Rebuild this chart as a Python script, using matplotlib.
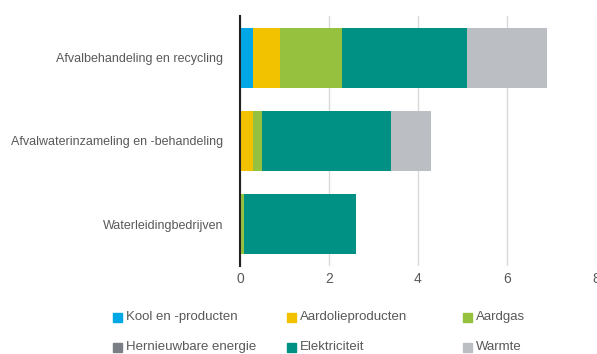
import matplotlib
matplotlib.use("Agg")
import matplotlib.pyplot as plt
import numpy as np
from matplotlib.patches import Rectangle

# -----------------------------
# data
# -----------------------------
categories = ["Afvalbehandeling en recycling",
              "Afvalwaterinzameling en -behandeling",
              "Waterleidingbedrijven"]
series = ["Kool en -producten", "Aardolieproducten", "Aardgas",
          "Hernieuwbare energie", "Elektriciteit", "Warmte"]
kool = [0.3, 0.0, 0.0]
aardolie = [0.6, 0.3, 0.0]
aardgas = [1.4, 0.2, 0.1]
hernieuwbaar = [0.0, 0.0, 0.0]
elektriciteit = [2.8, 2.9, 2.5]
warmte = [1.8, 0.9, 0.0]
colors = ["#00a7e7", "#f2c200", "#95c13f", "#7a7f86", "#009184", "#bbbec2"]

plt.rcParams['font.family'] = ['Liberation Sans', 'DejaVu Sans']
W, H = 597, 354
txt_col = "#595959"

fig = plt.figure(figsize=(W / 100, H / 100), dpi=100)
ax = fig.add_axes([240 / W, 88 / H, 356 / W, 250 / H])

values = [kool, aardolie, aardgas, hernieuwbaar, elektriciteit, warmte]
y = np.arange(len(categories))
left = np.zeros(len(categories))
for vals, col in zip(values, colors):
    ax.barh(y, vals, left=left, height=0.72, color=col, zorder=3)
    left += np.array(vals)

ax.set_ylim(2.5, -0.5)
ax.set_xlim(0, 8)
ax.set_xticks([0, 2, 4, 6, 8])
ax.set_yticks(y)
ax.set_yticklabels(categories)
ax.grid(axis="x", color="#d9d9d9", linewidth=1, zorder=0)
for s in ["top", "right", "bottom"]:
    ax.spines[s].set_visible(False)
ax.spines["left"].set_color("#222222")
ax.spines["left"].set_linewidth(1.5)
ax.spines["left"].set_zorder(4)
ax.tick_params(axis="both", length=0, labelcolor=txt_col, labelsize=9)
ax.tick_params(axis="x", labelsize=10, pad=4)
ax.tick_params(axis="y", pad=12)

# -----------------------------
# legend (3 fixed-width columns, row-major)
# -----------------------------
col_x = [113, 287, 463]
row_y = [317, 347]
for i, (name, col) in enumerate(zip(series, colors)):
    cx = col_x[i % 3]
    cy = row_y[i // 3]
    fig.patches.append(Rectangle((cx / W, 1 - (cy + 4.5) / H), 9 / W, 9 / H,
                                 transform=fig.transFigure, color=col))
    fig.text((cx + 13) / W, 1 - cy / H, name, fontsize=9.5, color=txt_col,
             va="center", ha="left")

fig.savefig("out.png", dpi=100)
